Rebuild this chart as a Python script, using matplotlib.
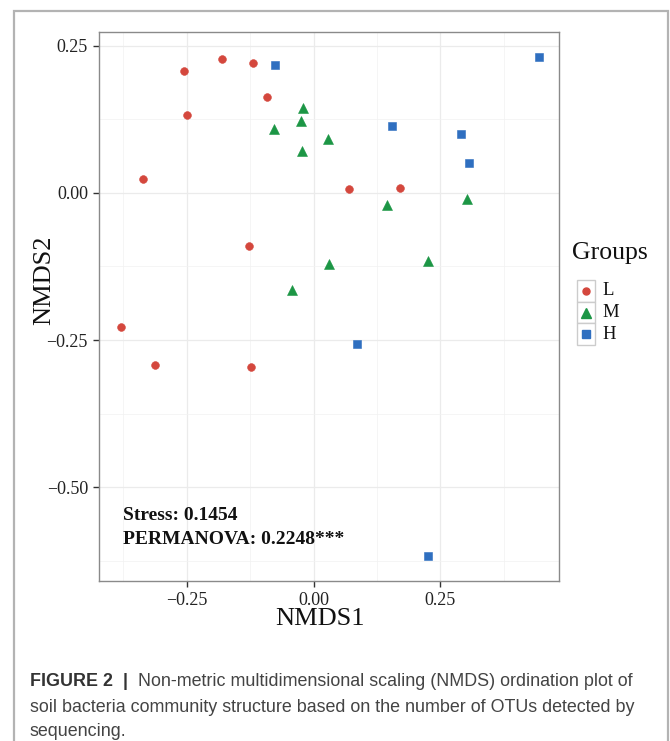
import matplotlib
matplotlib.use("Agg")
import matplotlib.pyplot as plt
from matplotlib.ticker import FixedLocator, AutoMinorLocator, FuncFormatter
from matplotlib.patches import Rectangle
from matplotlib.lines import Line2D

# ---------------- data ----------------
groups = ["L", "M", "H"]
L_x = [-0.255, -0.181, -0.120, -0.092, -0.249, -0.336, 0.070, 0.170, -0.127, -0.380, -0.313, -0.124]
L_y = [0.208, 0.227, 0.221, 0.163, 0.132, 0.024, 0.007, 0.0085, -0.090, -0.227, -0.292, -0.295]
M_x = [-0.021, -0.025, -0.078, 0.028, -0.023, 0.145, 0.303, 0.030, 0.225, -0.042]
M_y = [0.145, 0.123, 0.109, 0.091, 0.071, -0.020, -0.010, -0.120, -0.115, -0.165]
H_x = [-0.075, 0.445, 0.155, 0.290, 0.307, 0.085, 0.226]
H_y = [0.217, 0.231, 0.113, 0.101, 0.051, -0.256, -0.617]
x_ticks = [-0.25, 0.00, 0.25]
y_ticks = [-0.50, -0.25, 0.00, 0.25]
stress_text = "Stress: 0.1454"
permanova_text = "PERMANOVA: 0.2248***"
caption_bold = "FIGURE 2  |  "
caption_lines = ["Non-metric multidimensional scaling (NMDS) ordination plot of",
                 "soil bacteria community structure based on the number of OTUs detected by",
                 "sequencing."]

# ---------------- style ----------------
colors = {"L": "#d4473d", "M": "#1c9645", "H": "#2f6fc0"}
markers = {"L": "o", "M": "^", "H": "s"}
msizes = {"L": 5.6, "M": 7.4, "H": 6.0}
serif = "Liberation Serif"
sans = "Liberation Sans"

W, H = 670, 741
fig = plt.figure(figsize=(W / 100, H / 100), dpi=100)
fig.patch.set_facecolor("white")

# outer figure border
fig.add_artist(Rectangle((14 / W, -0.02), (668 - 14) / W, 1 - 11 / H + 0.02,
                         transform=fig.transFigure, fill=False,
                         edgecolor="#b3b3b3", linewidth=1.6, zorder=0))

ax_l, ax_r, ax_t, ax_b = 99, 559, 32.3, 580.7
ax = fig.add_axes([ax_l / W, 1 - ax_b / H, (ax_r - ax_l) / W, (ax_b - ax_t) / H])

data = {"L": (L_x, L_y), "M": (M_x, M_y), "H": (H_x, H_y)}
for g in groups:
    xs, ys = data[g]
    ax.plot(xs, ys, linestyle="none", marker=markers[g], markersize=msizes[g],
            markerfacecolor=colors[g], markeredgecolor=colors[g],
            markeredgewidth=0.4, zorder=3)

ax.set_xlim(-0.423, 0.484)
ax.set_ylim(-0.659, 0.273)
ax.xaxis.set_major_locator(FixedLocator(x_ticks))
ax.yaxis.set_major_locator(FixedLocator(y_ticks))
ax.xaxis.set_minor_locator(AutoMinorLocator(2))
ax.yaxis.set_minor_locator(AutoMinorLocator(2))
fmt = FuncFormatter(lambda v, p: f"{v:.2f}".replace("-", "\u2212"))
ax.xaxis.set_major_formatter(fmt)
ax.yaxis.set_major_formatter(fmt)

ax.grid(which="major", color="#ebebeb", linewidth=0.9, zorder=0)
ax.grid(which="minor", color="#f2f2f2", linewidth=0.5, zorder=0)
ax.set_axisbelow(True)
for s in ax.spines.values():
    s.set_color("#8a8a8a")
    s.set_linewidth(1.0)
ax.tick_params(which="major", length=4, width=1.0, color="#333333",
               labelsize=13, labelcolor="#222222", pad=4)
ax.tick_params(which="minor", length=0)
for lab in ax.get_xticklabels() + ax.get_yticklabels():
    lab.set_fontfamily(serif)

# axis titles
fig.text(320 / W, 1 - 619 / H, "NMDS1", fontfamily=serif, fontsize=19,
         ha="center", va="center", color="#111111")
fig.text(44 / W, 1 - 280 / H, "NMDS2", fontfamily=serif, fontsize=19,
         ha="center", va="center", rotation=90, color="#111111")

# annotation texts
ax.text(0.052, 0.118, stress_text, transform=ax.transAxes, fontfamily=serif,
        fontweight="bold", fontsize=14, ha="left", va="center", color="#111111")
ax.text(0.052, 0.076, permanova_text, transform=ax.transAxes, fontfamily=serif,
        fontweight="bold", fontsize=14, ha="left", va="center", color="#111111")

# legend (manual, ggplot-like)
fig.text(572 / W, 1 - 253 / H, "Groups", fontfamily=serif, fontsize=18.5,
         ha="left", va="center", color="#111111")
key_tops = [280, 301.7, 323.3]
key_h = 21.7
for g, top in zip(groups, key_tops):
    fig.add_artist(Rectangle((577 / W, 1 - (top + key_h) / H), 18.3 / W, key_h / H,
                             transform=fig.transFigure, facecolor="white",
                             edgecolor="#cccccc", linewidth=1.0))
    cy = top + key_h / 2
    fig.add_artist(Line2D([586 / W], [1 - cy / H], transform=fig.transFigure,
                          marker=markers[g], markersize=msizes[g] * 0.9,
                          markerfacecolor=colors[g], markeredgecolor=colors[g],
                          linestyle="none"))
    fig.text(602 / W, 1 - cy / H, g, fontfamily=serif, fontsize=13.5,
             ha="left", va="center", color="#111111")

# caption
cap_y = [680, 705, 729]
cap_fs = 12.9
t1 = fig.text(30 / W, 1 - cap_y[0] / H, caption_bold, fontfamily=sans,
              fontweight="bold", fontsize=cap_fs, ha="left", va="center_baseline",
              color="#333333")
fig.canvas.draw()
bb = t1.get_window_extent()
fig.text(bb.x1 / W, 1 - cap_y[0] / H, caption_lines[0], fontfamily=sans,
         fontsize=cap_fs, ha="left", va="center_baseline", color="#444444")
for line, yy in zip(caption_lines[1:], cap_y[1:]):
    fig.text(30 / W, 1 - yy / H, line, fontfamily=sans, fontsize=cap_fs,
             ha="left", va="center_baseline", color="#444444")

fig.savefig("out.png", dpi=100, facecolor="white")
